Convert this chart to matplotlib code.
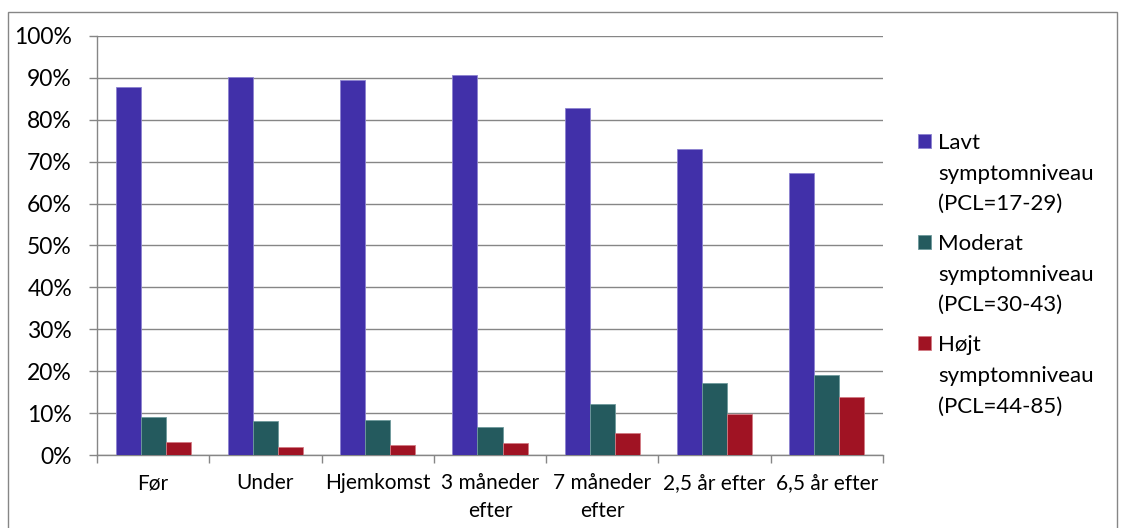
import numpy as np
import matplotlib
matplotlib.use("Agg")
import matplotlib.pyplot as plt
from matplotlib.patches import Rectangle
from matplotlib.ticker import FuncFormatter

plt.rcParams['font.family'] = ['Lato', 'DejaVu Sans']

# categories on the x axis
categories = ["Før", "Under", "Hjemkomst", "3 måneder\nefter", "7 måneder\nefter",
              "2,5 år efter", "6,5 år efter"]
# series names for legend (first line next to the square, rest below)
series_names = ["Lavt", "Moderat", "Højt"]
series_sub = ["symptomniveau\n(PCL=17-29)",
              "symptomniveau\n(PCL=30-43)",
              "symptomniveau\n(PCL=44-85)"]
# percent values
lavt = [87.8, 90.3, 89.5, 90.7, 82.8, 73.0, 67.3]
moderat = [9.1, 8.0, 8.3, 6.7, 12.2, 17.3, 19.1]
hojt = [3.1, 2.0, 2.5, 2.8, 5.2, 9.7, 13.8]
colors = ["#4130A9", "#245A5E", "#A01323"]
edges = ["#8C82D0", "#6E9A9C", "#D27A84"]

fig = plt.figure(figsize=(11.23, 5.28), dpi=100)
# outer frame like the office chart border
fig.patches.append(Rectangle((8 / 1123, -0.1), 1109 / 1123, 1.1 - 12 / 528,
                             transform=fig.transFigure, fill=False,
                             edgecolor="#868686", linewidth=1.0))
axis = fig.add_axes([97 / 1123, 73 / 528, 786 / 1123, 419 / 528])

x = np.arange(len(categories))
w = 0.223
for k, vals in enumerate([lavt, moderat, hojt]):
    axis.bar(x + (k - 1) * w, vals, w, color=colors[k], edgecolor=edges[k],
             linewidth=0.6, label=series_names[k], zorder=3)

axis.set_xlim(-0.5, len(categories) - 0.5)
axis.set_ylim(0, 100)
axis.set_yticks(np.arange(0, 101, 10))
axis.yaxis.set_major_formatter(FuncFormatter(lambda v, p: f"{v:.0f}%"))
axis.grid(axis="y", color="#868686", linewidth=1.0, zorder=0)
for s in ["top", "right"]:
    axis.spines[s].set_visible(False)
for s in ["left", "bottom"]:
    axis.spines[s].set_color("#868686")
    axis.spines[s].set_linewidth(1.0)

axis.set_xticks(x)
axis.set_xticklabels(categories, fontsize=15, linespacing=1.5)
axis.tick_params(axis="x", length=0, pad=13)
axis.set_xticks(np.arange(-0.5, len(categories)), minor=True)
axis.tick_params(axis="x", which="minor", length=6, color="#868686", width=1.0)
axis.tick_params(axis="y", length=6, color="#868686", width=1.0, labelsize=16.5, pad=12)

leg = axis.legend(loc="upper left", bbox_to_anchor=(1.03, 0.796), frameon=False,
                  fontsize=16, handlelength=0.58, handleheight=0.58,
                  handletextpad=0.33, labelspacing=3.66, borderpad=0)

# remaining lines of each legend label go under the first line
fig.canvas.draw()
inv = fig.transFigure.inverted()
for t, sub in zip(leg.get_texts(), series_sub):
    bb = t.get_window_extent()
    x0, y0 = inv.transform((bb.x0, bb.y0))
    fig.text(x0, y0 - 11 / 528, sub, fontsize=16, va="top", ha="left",
             linespacing=1.65)

fig.savefig("out.png", dpi=100)
